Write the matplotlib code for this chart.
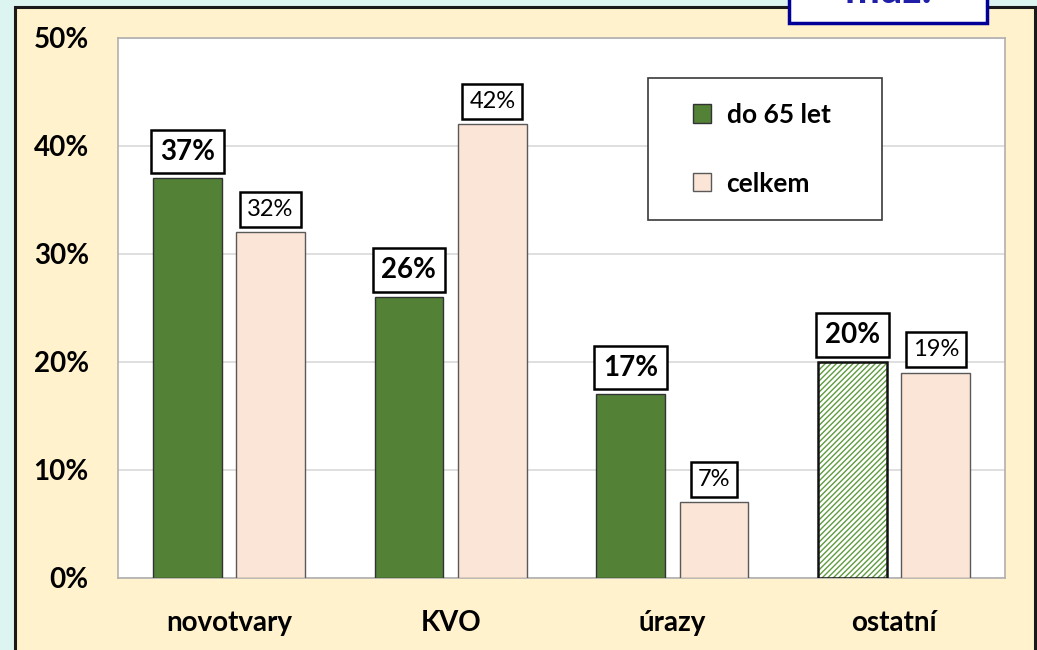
import matplotlib
matplotlib.use("Agg")
import matplotlib.pyplot as plt
from matplotlib.patches import Rectangle
import numpy as np

categories = ["novotvary", "KVO", "úrazy", "ostatní"]
do65 = [37, 26, 17, 20]
celkem = [32, 42, 7, 19]
series_names = ["do 65 let", "celkem"]
yticks = [0, 10, 20, 30, 40, 50]
corner_text = "muž."

W, H = 1037, 650
plt.rcParams['font.family'] = ['Lato', 'DejaVu Sans']

fig = plt.figure(figsize=(W / 100, H / 100), dpi=100)
fig.patch.set_facecolor('#dcf5f1')

def fx(x):
    return x / W

def fy(y):
    return 1 - y / H

# cream panel
fig.patches.append(Rectangle((fx(15), fy(660)), fx(1035) - fx(15), fy(7) - fy(660),
                             transform=fig.transFigure, facecolor='#fff2cc',
                             edgecolor='#1a1a1a', linewidth=2.2, zorder=-2))
# corner title box
fig.patches.append(Rectangle((fx(789), fy(23)), fx(987) - fx(789), fy(-10) - fy(23),
                             transform=fig.transFigure, facecolor='white',
                             edgecolor='#000099', linewidth=2.5, zorder=-1))
fig.text(fx(888), fy(3), corner_text, transform=fig.transFigure, ha='center',
         va='baseline', fontsize=30, fontweight='bold', color='#1f1fa8', zorder=-1)

ax = fig.add_axes([fx(118), fy(578), fx(1005) - fx(118), fy(38) - fy(578)])
ax.set_zorder(1)
ax.set_facecolor('white')

x = np.arange(len(categories))
bw = 0.31
off = 0.188
green = '#538135'
pink = '#fbe5d6'

for i, v in enumerate(do65):
    if i == len(do65) - 1:
        ax.bar(x[i] - off, v, bw, color='white', edgecolor='#5f9b3f', hatch='//////',
               linewidth=0.0, zorder=3)
        ax.bar(x[i] - off, v, bw, fill=False, edgecolor='#111111', linewidth=1.8, zorder=4)
    else:
        ax.bar(x[i] - off, v, bw, color=green, edgecolor='#333333', linewidth=1.0, zorder=3,
               label=series_names[0] if i == 0 else None)
ax.bar(x + off, celkem, bw, color=pink, edgecolor='#595959', linewidth=1.0, zorder=3,
       label=series_names[1])

for i, v in enumerate(do65):
    ax.annotate(f"{v}%", (x[i] - off, v), xytext=(0, 10), textcoords='offset points',
                ha='center', va='bottom', fontsize=20, fontweight='bold', color='black',
                bbox=dict(boxstyle='square,pad=0.32', facecolor='white', edgecolor='black',
                          linewidth=1.8), zorder=5)
for i, v in enumerate(celkem):
    ax.annotate(f"{v}%", (x[i] + off, v), xytext=(0, 9), textcoords='offset points',
                ha='center', va='bottom', fontsize=17, color='black',
                bbox=dict(boxstyle='square,pad=0.3', facecolor='white', edgecolor='black',
                          linewidth=1.8), zorder=5)

ax.set_xlim(-0.5, len(categories) - 0.5)
ax.set_ylim(0, 50)
ax.set_yticks(yticks)
ax.set_yticklabels([f"{t}%" for t in yticks], fontsize=20, fontweight='bold')
ax.set_xticks(x)
ax.set_xticklabels(categories, fontsize=20, fontweight='bold')
ax.tick_params(axis='both', length=0)
ax.tick_params(axis='y', pad=21)
ax.tick_params(axis='x', pad=23)
ax.yaxis.grid(True, color='#d9d9d9', linewidth=1.2, zorder=0)
ax.set_axisbelow(True)
for s in ax.spines.values():
    s.set_color('#b0b0b0')
    s.set_linewidth(1.2)

# legend frame
ax.add_patch(Rectangle((0.5975, 0.663), 0.8613 - 0.5975, 0.926 - 0.663,
                       transform=ax.transAxes, facecolor='white', edgecolor='#3a3a3a',
                       linewidth=1.2, zorder=6))
leg = ax.legend(loc='center left', bbox_to_anchor=(0.648, 0.794),
                prop={'weight': 'bold', 'size': 19}, frameon=False,
                handlelength=0.68, handleheight=0.68,
                labelspacing=1.7, borderpad=0, handletextpad=0.6, borderaxespad=0)
leg.set_zorder(7)

fig.savefig('out.png', dpi=100, facecolor=fig.get_facecolor())
